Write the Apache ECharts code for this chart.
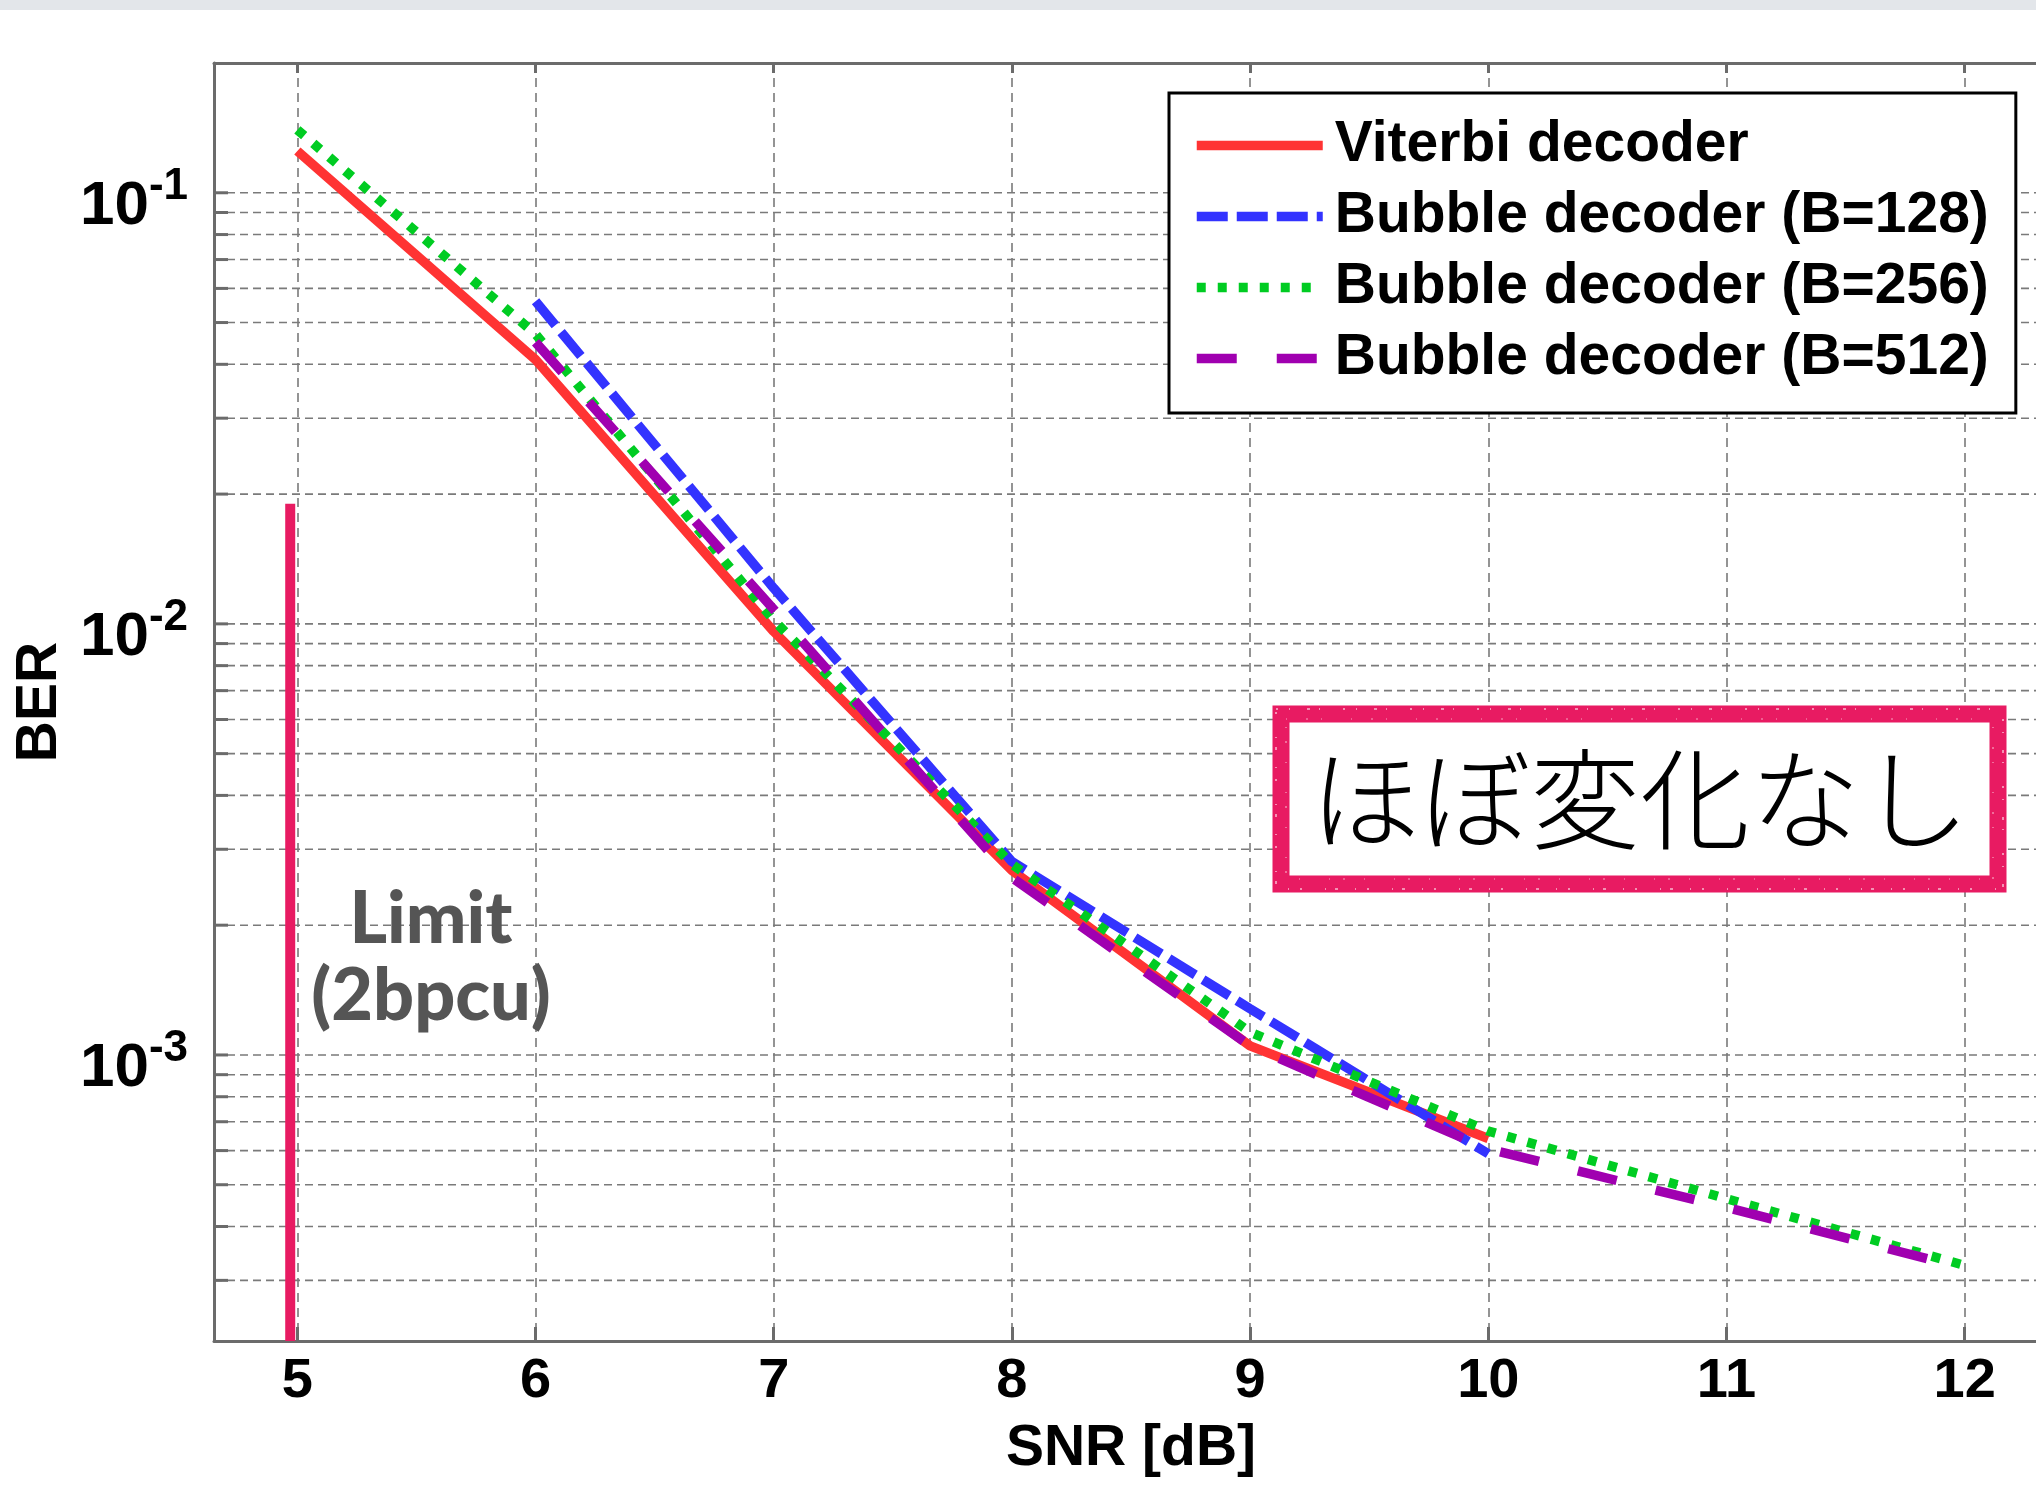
<!DOCTYPE html>
<html lang="ja">
<head>
<meta charset="UTF-8">
<title>BER vs SNR</title>
<script src="https://cdn.jsdelivr.net/npm/echarts@6/dist/echarts.min.js"></script>
<style>
  html, body { margin: 0; padding: 0; background: #fff; }
  #chart { width: 2036px; height: 1494px; }
</style>
</head>
<body>
<div id="chart"></div>
<script>
  // BER curves
  var snrViterbi = [5, 6, 7, 8, 9, 10];
  var berViterbi = [0.125, 0.0410, 0.0096, 0.00268, 0.00105, 0.00064];

  var snrB128 = [6, 7, 8, 9, 10];
  var berB128 = [0.0560, 0.0121, 0.00281, 0.00128, 0.00059];

  var snrB256 = [5, 6, 7, 8, 9, 10, 11, 12];
  var berB256 = [0.140, 0.0470, 0.0102, 0.00277, 0.00113, 0.000666, 0.000464, 0.000325];

  var snrB512 = [6, 7, 8, 9, 10, 11, 12];
  var berB512 = [0.0450, 0.0108, 0.00258, 0.00105, 0.000605, 0.000443, 0.00032];

  // limit (2bpcu) bar
  var limitSnr = 4.97;
  var limitBer = [0.019, 2.17e-4];

  var seriesNames = ['Viterbi decoder', 'Bubble decoder (B=128)', 'Bubble decoder (B=256)', 'Bubble decoder (B=512)'];

  // axes
  var X_MIN = 4.65, X_MAX = 12.35;
  var Y_MIN = 2.17e-4, Y_MAX = 0.2;
  var yDecades = [1e-4, 1e-3, 1e-2, 1e-1];
  var yMantissas = [1, 2, 3, 4, 5, 6, 7, 8, 9];

  var yGrid = [];
  yDecades.forEach(function (d) {
    yMantissas.forEach(function (m) {
      var v = m * d;
      if (v > Y_MIN && v < Y_MAX * 0.999) yGrid.push(v);
    });
  });

  function zip(xs, ys) {
    return xs.map(function (x, i) { return [x, ys[i]]; });
  }

  var FONT = "'Liberation Sans', Arial, Helvetica, sans-serif";
  var AXIS_GRAY = '#6b6b6b';
  var GRID_GRAY = '#7a7a7a';
  var LINE_W = 9.5;
  var PINK = '#e81b62';

  var chart = echarts.init(document.getElementById('chart'), null, { renderer: 'canvas' });

  var option = {
    animation: false,
    backgroundColor: '#fff',
    grid: {
      left: 214, top: 63, width: 1834, height: 1278,
      containLabel: false, outerBoundsMode: 'none'
    },
    legend: {
      data: seriesNames,
      orient: 'vertical',
      left: 1169, top: 93,
      padding: [24, 27, 26, 23],
      itemGap: 14,
      itemWidth: 126, itemHeight: 56,
      backgroundColor: '#fff',
      borderColor: '#000', borderWidth: 3, borderRadius: 0,
      selectedMode: false,
      itemStyle: { color: 'rgba(0,0,0,0)', borderWidth: 0, opacity: 0 },
      lineStyle: { width: LINE_W, type: 'inherit', cap: 'butt' },
      textStyle: {
        fontSize: 57, fontWeight: 'bold', color: '#000', fontFamily: FONT,
        lineHeight: 56, padding: [0, 0, 0, 7]
      }
    },
    xAxis: [{
      type: 'value',
      min: X_MIN, max: X_MAX,
      minInterval: 1, maxInterval: 1, splitNumber: 8,
      position: 'bottom',
      name: 'SNR [dB]',
      nameLocation: 'middle',
      nameGap: 80,
      nameTextStyle: { fontSize: 57, fontWeight: 'bold', color: '#000', fontFamily: FONT },
      axisLine: { show: true, lineStyle: { color: AXIS_GRAY, width: 3 } },
      axisTick: { show: true, inside: true, length: 14, lineStyle: { color: AXIS_GRAY, width: 3 } },
      axisLabel: {
        fontSize: 56, fontWeight: 'bold', color: '#000', fontFamily: FONT, margin: 13,
        showMinLabel: false, showMaxLabel: false,
        formatter: function (v) {
          return Math.abs(v - Math.round(v)) < 1e-6 ? String(Math.round(v)) : '';
        }
      },
      splitLine: { show: true, lineStyle: { color: GRID_GRAY, width: 1.6, type: [9, 6] } }
    }, {
      type: 'value',
      min: X_MIN, max: X_MAX,
      minInterval: 1, maxInterval: 1, splitNumber: 8,
      position: 'top',
      axisLine: { show: true, lineStyle: { color: AXIS_GRAY, width: 3 } },
      axisTick: { show: true, inside: true, length: 10, lineStyle: { color: AXIS_GRAY, width: 3 } },
      axisLabel: { show: false },
      splitLine: { show: false }
    }],
    yAxis: {
      type: 'log',
      logBase: 10,
      min: Y_MIN, max: Y_MAX,
      name: 'BER',
      nameLocation: 'middle',
      nameGap: 136,
      nameTextStyle: { fontSize: 57, fontWeight: 'bold', color: '#000', fontFamily: FONT },
      axisLine: { show: true, lineStyle: { color: AXIS_GRAY, width: 3 } },
      axisTick: { show: false },
      splitLine: { show: false },
      axisLabel: {
        margin: 26,
        padding: [28, 0, 0, 0],
        showMinLabel: false, showMaxLabel: false,
        formatter: function (v) {
          var e = Math.log10(v);
          if (Math.abs(e - Math.round(e)) > 1e-6) return '';
          return '{b|10}{s|' + Math.round(e) + '}';
        },
        rich: {
          b: { fontSize: 62, fontWeight: 'bold', color: '#000', fontFamily: FONT, lineHeight: 62 },
          s: { fontSize: 44, fontWeight: 'bold', color: '#000', fontFamily: FONT, lineHeight: 44, padding: [0, 0, 40, 0] }
        }
      }
    },
    series: [
      {
        // minor + major horizontal grid lines and left-axis ticks
        type: 'custom',
        name: 'ygrid',
        z: 1,
        silent: true,
        clip: false,
        data: yGrid.map(function (v) { return [X_MIN, v]; }),
        encode: { x: 0, y: 1 },
        renderItem: function (params, api) {
          var v = api.value(1);
          var p0 = api.coord([X_MIN, v]);
          var p1 = api.coord([X_MAX, v]);
          return {
            type: 'group',
            children: [{
              type: 'line',
              shape: { x1: p0[0], y1: p0[1], x2: p1[0], y2: p1[1] },
              style: { stroke: GRID_GRAY, lineWidth: 1.6, lineDash: [8, 5] }
            }, {
              type: 'line',
              shape: { x1: p0[0], y1: p0[1], x2: p0[0] + 14, y2: p0[1] },
              style: { stroke: AXIS_GRAY, lineWidth: 3 }
            }]
          };
        }
      },
      {
        name: 'Limit',
        type: 'line',
        data: [[limitSnr, limitBer[0]], [limitSnr, limitBer[1]]],
        symbol: 'none',
        z: 3,
        lineStyle: { color: PINK, width: 10, cap: 'butt' }
      },
      {
        name: seriesNames[0],
        type: 'line',
        data: zip(snrViterbi, berViterbi),
        symbol: 'none',
        z: 3,
        lineStyle: { color: '#ff3333', width: LINE_W, type: 'solid', cap: 'butt' },
        itemStyle: { color: '#ff3333' }
      },
      {
        name: seriesNames[1],
        type: 'line',
        data: zip(snrB128, berB128),
        symbol: 'none',
        z: 4,
        lineStyle: { color: '#3333ff', width: LINE_W, type: [31, 9], cap: 'butt' },
        itemStyle: { color: '#3333ff' }
      },
      {
        name: seriesNames[2],
        type: 'line',
        data: zip(snrB256, berB256),
        symbol: 'none',
        z: 5,
        lineStyle: { color: '#00cc22', width: LINE_W, type: [9, 12], cap: 'butt' },
        itemStyle: { color: '#00cc22' }
      },
      {
        name: seriesNames[3],
        type: 'line',
        data: zip(snrB512, berB512),
        symbol: 'none',
        z: 6,
        lineStyle: { color: '#a000b0', width: LINE_W, type: [40, 40], cap: 'butt' },
        itemStyle: { color: '#a000b0' }
      }
    ],
    graphic: [
      {
        type: 'rect', left: 0, top: 0, z: 100,
        shape: { width: 2036, height: 10 },
        style: { fill: '#e3e6ea' }
      },
      {
        type: 'text', x: 431, y: 958, z: 100,
        style: {
          text: 'Limit\n(2bpcu)',
          fontSize: 72, fontWeight: 900, fontFamily: "Lato, 'Open Sans', sans-serif",
          fill: '#555555', align: 'center', verticalAlign: 'middle', lineHeight: 77
        }
      },
      {
        type: 'rect', z: 100,
        shape: { x: 1281, y: 714, width: 717, height: 170 },
        style: { fill: '#fff', stroke: PINK, lineWidth: 17 }
      },
      {
        // speckled texture on the hand-drawn frame
        type: 'rect', z: 101,
        shape: { x: 1276, y: 709, width: 727, height: 180 },
        style: { fill: null, stroke: '#fff', lineWidth: 1.5, opacity: 0.7, lineDash: [2, 11, 1, 17, 3, 9, 1, 23] }
      },
      {
        type: 'rect', z: 101,
        shape: { x: 1286, y: 719, width: 707, height: 160 },
        style: { fill: null, stroke: '#fff', lineWidth: 1.2, opacity: 0.6, lineDash: [1, 19, 2, 13, 1, 29] }
      },
      {
        type: 'text', x: 1640, y: 799, z: 102,
        style: {
          text: 'ほぼ変化なし',
          fontSize: 110, fontWeight: 300, fontFamily: "'Noto Sans CJK JP', sans-serif",
          fill: '#000', align: 'center', verticalAlign: 'middle'
        }
      }
    ]
  };

  chart.setOption(option);
</script>
</body>
</html>
